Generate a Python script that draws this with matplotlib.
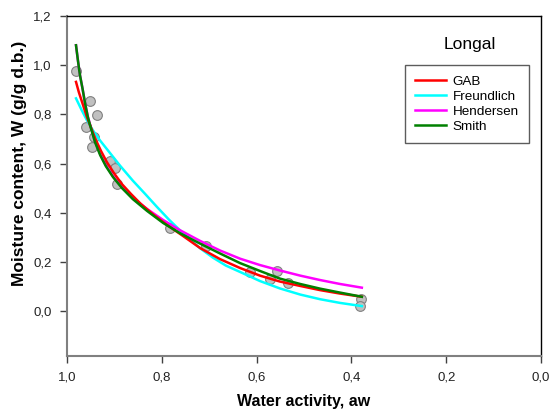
import matplotlib
matplotlib.use("Agg")
import matplotlib.pyplot as plt
from matplotlib.ticker import FuncFormatter

plt.rcParams['font.family'] = ['Liberation Sans', 'DejaVu Sans']

# experimental points (water activity, moisture content)
aw_exp = [0.982, 0.952, 0.937, 0.960, 0.944, 0.948, 0.909, 0.899, 0.895,
          0.783, 0.707, 0.614, 0.572, 0.556, 0.533, 0.380, 0.382]
w_exp = [0.976, 0.855, 0.798, 0.747, 0.709, 0.668, 0.611, 0.580, 0.515,
         0.336, 0.265, 0.160, 0.129, 0.164, 0.113, 0.048, 0.020]

# fitted model curves
aw_gab = [0.981, 0.975, 0.966, 0.958, 0.949, 0.939, 0.928, 0.916, 0.901, 0.884, 0.865, 0.844,
          0.819, 0.789, 0.755, 0.719, 0.677, 0.635, 0.593, 0.551, 0.508, 0.466, 0.424, 0.378]
w_gab = [0.932, 0.890, 0.837, 0.789, 0.744, 0.695, 0.650, 0.606, 0.561, 0.516, 0.476, 0.435,
         0.394, 0.350, 0.305, 0.256, 0.211, 0.175, 0.144, 0.120, 0.102, 0.085, 0.071, 0.058]

aw_fre = [0.981, 0.970, 0.958, 0.945, 0.930, 0.909, 0.888, 0.861, 0.835, 0.810, 0.785, 0.762,
          0.741, 0.719, 0.692, 0.665, 0.635, 0.593, 0.551, 0.508, 0.466, 0.424, 0.378]
w_fre = [0.865, 0.821, 0.776, 0.734, 0.693, 0.642, 0.591, 0.530, 0.476, 0.423, 0.372, 0.329,
         0.291, 0.255, 0.217, 0.185, 0.159, 0.122, 0.092, 0.067, 0.048, 0.033, 0.020]

aw_hen = [0.981, 0.977, 0.973, 0.967, 0.962, 0.956, 0.949, 0.941, 0.930, 0.918, 0.903, 0.884, 0.861,
          0.831, 0.797, 0.762, 0.719, 0.677, 0.635, 0.593, 0.551, 0.508, 0.466, 0.424, 0.378]
w_hen = [1.081, 1.020, 0.963, 0.902, 0.846, 0.791, 0.742, 0.691, 0.638, 0.593, 0.549, 0.504, 0.461,
         0.415, 0.370, 0.329, 0.285, 0.246, 0.213, 0.187, 0.165, 0.144, 0.126, 0.110, 0.095]

aw_smi = [0.981, 0.977, 0.973, 0.967, 0.962, 0.956, 0.949, 0.941, 0.930, 0.918, 0.903, 0.884, 0.861,
          0.831, 0.797, 0.762, 0.719, 0.677, 0.635, 0.593, 0.551, 0.508, 0.466, 0.424, 0.378]
w_smi = [1.081, 1.020, 0.963, 0.902, 0.846, 0.789, 0.740, 0.687, 0.634, 0.589, 0.545, 0.500, 0.455,
         0.407, 0.358, 0.317, 0.274, 0.234, 0.195, 0.163, 0.132, 0.110, 0.091, 0.075, 0.058]

xticks = [1.0, 0.8, 0.6, 0.4, 0.2, 0.0]
yticks = [0.0, 0.2, 0.4, 0.6, 0.8, 1.0, 1.2]

fig = plt.figure(figsize=(5.51, 4.16), dpi=100)
ax = fig.add_axes([0.1216, 0.1442, 0.8603, 0.8173])

ax.plot(aw_exp, w_exp, 'o', ms=7, mfc='#c0c0c0', mec='#808080', mew=0.8, zorder=1)
ax.plot(aw_fre, w_fre, color='#00ffff', lw=1.8, label='Freundlich', zorder=2)
ax.plot(aw_hen, w_hen, color='#ff00ff', lw=1.8, label='Hendersen', zorder=2)
ax.plot(aw_gab, w_gab, color='#ff0000', lw=1.8, label='GAB', zorder=3)
ax.plot(aw_smi, w_smi, color='#008000', lw=1.8, label='Smith', zorder=4)

ax.set_xlim(1.0, 0.0)
ax.set_ylim(-0.183, 1.2)
ax.set_xticks(xticks)
ax.set_yticks(yticks)
fmt = FuncFormatter(lambda v, p: f"{v:.1f}".replace('.', ','))
ax.xaxis.set_major_formatter(fmt)
ax.yaxis.set_major_formatter(fmt)
ax.tick_params(direction='out', length=5, width=1, color='#404040',
               labelsize=9.5, labelcolor='#222222', pad=6)

for s in ['left', 'bottom']:
    ax.spines[s].set_color('#808080')
    ax.spines[s].set_linewidth(1.5)
for s in ['top', 'right']:
    ax.spines[s].set_color('black')
    ax.spines[s].set_linewidth(1.0)

ax.set_xlabel('Water activity, aw', fontsize=11.5, fontweight='bold', labelpad=8)
ax.set_ylabel('Moisture content, W (g/g d.b.)', fontsize=12.5, fontweight='bold')
ax.yaxis.set_label_coords(-0.084, 0.568)

ax.text(0.150, 1.085, 'Longal', fontsize=12.5, ha='center', va='center')

handles, labels = ax.get_legend_handles_labels()
order = [labels.index(n) for n in ['GAB', 'Freundlich', 'Hendersen', 'Smith']]
leg = ax.legend([handles[i] for i in order], [labels[i] for i in order],
                loc='upper left', bbox_to_anchor=(0.713, 0.856), fontsize=9.7,
                frameon=True, fancybox=False, edgecolor='#333333',
                handlelength=2.3, handletextpad=0.5, borderpad=0.75,
                labelspacing=0.2, borderaxespad=0)
leg.get_frame().set_linewidth(1.0)

fig.savefig('out.png', dpi=100)
